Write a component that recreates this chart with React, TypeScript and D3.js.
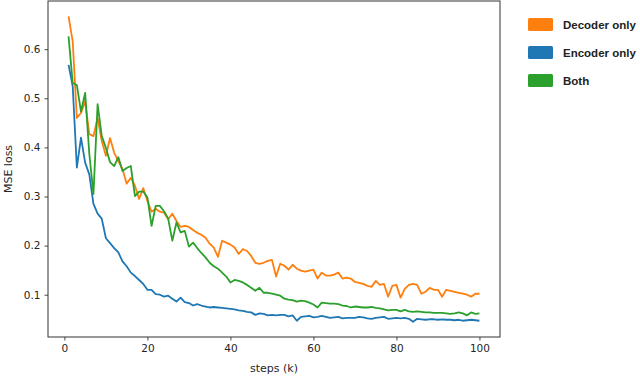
import React, { useEffect, useRef } from 'react';
import * as d3 from 'd3';

// values, one per step (k = 1..100)
const decoderOnly = [
  0.667, 0.616, 0.460, 0.470, 0.494, 0.427, 0.423, 0.460, 0.413, 0.383,
  0.419, 0.389, 0.372, 0.356, 0.326, 0.338, 0.322, 0.295, 0.317, 0.291,
  0.269, 0.275, 0.269, 0.267, 0.254, 0.265, 0.250, 0.238, 0.240, 0.238,
  0.232, 0.226, 0.222, 0.216, 0.204, 0.196, 0.177, 0.210, 0.206, 0.202,
  0.196, 0.183, 0.193, 0.189, 0.179, 0.165, 0.163, 0.165, 0.169, 0.171,
  0.137, 0.163, 0.159, 0.151, 0.161, 0.153, 0.149, 0.147, 0.149, 0.151,
  0.133, 0.145, 0.139, 0.139, 0.141, 0.145, 0.133, 0.135, 0.133, 0.126,
  0.124, 0.122, 0.118, 0.116, 0.128, 0.120, 0.122, 0.096, 0.118, 0.120,
  0.094, 0.112, 0.120, 0.122, 0.120, 0.102, 0.106, 0.114, 0.110, 0.110,
  0.096, 0.110, 0.108, 0.106, 0.104, 0.102, 0.100, 0.096, 0.102, 0.102,
];

const encoderOnly = [
  0.568, 0.525, 0.359, 0.420, 0.369, 0.345, 0.285, 0.265, 0.255, 0.215,
  0.205, 0.195, 0.186, 0.168, 0.158, 0.145, 0.138, 0.130, 0.122, 0.110,
  0.110, 0.101, 0.100, 0.096, 0.098, 0.092, 0.086, 0.094, 0.085, 0.083,
  0.078, 0.081, 0.078, 0.076, 0.074, 0.075, 0.074, 0.073, 0.072, 0.071,
  0.070, 0.068, 0.067, 0.065, 0.064, 0.059, 0.062, 0.061, 0.058, 0.059,
  0.058, 0.059, 0.059, 0.056, 0.058, 0.047, 0.055, 0.056, 0.057, 0.054,
  0.055, 0.057, 0.055, 0.053, 0.054, 0.055, 0.052, 0.053, 0.053, 0.053,
  0.055, 0.054, 0.052, 0.051, 0.053, 0.054, 0.055, 0.051, 0.052, 0.053,
  0.052, 0.053, 0.051, 0.045, 0.051, 0.050, 0.049, 0.050, 0.050, 0.049,
  0.050, 0.049, 0.049, 0.048, 0.049, 0.047, 0.048, 0.049, 0.048, 0.047,
];

const both = [
  0.626, 0.531, 0.527, 0.473, 0.511, 0.387, 0.305, 0.488, 0.423, 0.399,
  0.370, 0.362, 0.380, 0.352, 0.358, 0.362, 0.301, 0.310, 0.310, 0.298,
  0.240, 0.281, 0.281, 0.270, 0.255, 0.210, 0.247, 0.227, 0.230, 0.198,
  0.206, 0.195, 0.185, 0.176, 0.165, 0.158, 0.153, 0.145, 0.137, 0.125,
  0.130, 0.128, 0.125, 0.120, 0.114, 0.108, 0.114, 0.104, 0.104, 0.102,
  0.100, 0.098, 0.092, 0.090, 0.089, 0.086, 0.088, 0.087, 0.084, 0.080,
  0.074, 0.084, 0.083, 0.082, 0.082, 0.081, 0.078, 0.077, 0.074, 0.076,
  0.075, 0.074, 0.074, 0.075, 0.073, 0.072, 0.070, 0.068, 0.069, 0.069,
  0.066, 0.069, 0.066, 0.065, 0.066, 0.065, 0.064, 0.064, 0.063, 0.063,
  0.063, 0.062, 0.061, 0.062, 0.064, 0.062, 0.058, 0.064, 0.061, 0.062,
];

const seriesNames = ['Decoder only', 'Encoder only', 'Both'];
const seriesColors = ['#ff7f0e', '#1f77b4', '#2ca02c'];
const xTicks = [0, 20, 40, 60, 80, 100];
const yTicks = [0.1, 0.2, 0.3, 0.4, 0.5, 0.6];

const WIDTH = 640;
const HEIGHT = 376;
const frame = { left: 48, right: 500, top: 1, bottom: 337 };

export default function App() {
  const ref = useRef<SVGSVGElement>(null);

  useEffect(() => {
    const svg = d3.select(ref.current);
    svg.selectAll('*').remove();

    const data = [decoderOnly, encoderOnly, both];
    const steps = d3.range(1, decoderOnly.length + 1);

    // matplotlib-like 5% margins
    const allVals = data.flat();
    const yMin = d3.min(allVals) as number;
    const yMax = d3.max(allVals) as number;
    const yPad = (yMax - yMin) * 0.05;
    const xPad = (steps[steps.length - 1] - steps[0]) * 0.05;

    const x = d3.scaleLinear()
      .domain([steps[0] - xPad, steps[steps.length - 1] + xPad])
      .range([frame.left, frame.right]);
    const y = d3.scaleLinear()
      .domain([yMin - yPad, yMax + yPad])
      .range([frame.bottom, frame.top]);

    const font = 'DejaVu Sans, sans-serif';

    const line = d3.line<number>()
      .x((d, i) => x(steps[i]))
      .y((d) => y(d));

    const plot = svg.append('g');
    data.forEach((series, i) => {
      plot.append('path')
        .attr('d', line(series) as string)
        .attr('fill', 'none')
        .attr('stroke', seriesColors[i])
        .attr('stroke-width', 1.8)
        .attr('stroke-linejoin', 'round');
    });

    // axes
    const xAxis = svg.append('g')
      .attr('transform', `translate(0,${frame.bottom})`)
      .call(d3.axisBottom(x).tickValues(xTicks).tickSize(3.5).tickPadding(4).tickFormat(d3.format('d')));
    const yAxis = svg.append('g')
      .attr('transform', `translate(${frame.left},0)`)
      .call(d3.axisLeft(y).tickValues(yTicks).tickSize(3.5).tickPadding(4).tickFormat(d3.format('.1f')));

    [xAxis, yAxis].forEach((g) => {
      g.select('.domain').remove();
      g.selectAll('line').attr('stroke', '#333').attr('stroke-width', 0.9);
      g.selectAll('text')
        .attr('fill', '#262626')
        .style('font-family', font)
        .style('font-size', '10.5px');
    });

    // frame
    svg.append('rect')
      .attr('x', frame.left)
      .attr('y', frame.top)
      .attr('width', frame.right - frame.left)
      .attr('height', frame.bottom - frame.top)
      .attr('fill', 'none')
      .attr('stroke', '#333')
      .attr('stroke-width', 1);

    svg.append('text')
      .attr('x', (frame.left + frame.right) / 2)
      .attr('y', 372)
      .attr('text-anchor', 'middle')
      .attr('fill', '#262626')
      .style('font-family', font)
      .style('font-size', '11px')
      .text('steps (k)');

    svg.append('text')
      .attr('transform', `translate(12,${(frame.top + frame.bottom) / 2}) rotate(-90)`)
      .attr('text-anchor', 'middle')
      .attr('fill', '#262626')
      .style('font-family', font)
      .style('font-size', '11px')
      .text('MSE loss');

    // legend
    const legend = svg.append('g').attr('transform', 'translate(528,18)');
    seriesNames.forEach((name, i) => {
      const g = legend.append('g').attr('transform', `translate(0,${i * 28})`);
      g.append('rect')
        .attr('width', 25)
        .attr('height', 13)
        .attr('rx', 1.5)
        .attr('fill', seriesColors[i]);
      g.append('text')
        .attr('x', 35)
        .attr('y', 10.5)
        .attr('fill', '#222')
        .style('font-family', 'Liberation Sans, Arial, sans-serif')
        .style('font-size', '11.5px')
        .style('font-weight', 600)
        .text(name);
    });
  }, []);

  return (
    <svg
      ref={ref}
      width={WIDTH}
      height={HEIGHT}
      style={{ position: 'absolute', left: 0, top: 0, background: '#fff' }}
    />
  );
}
